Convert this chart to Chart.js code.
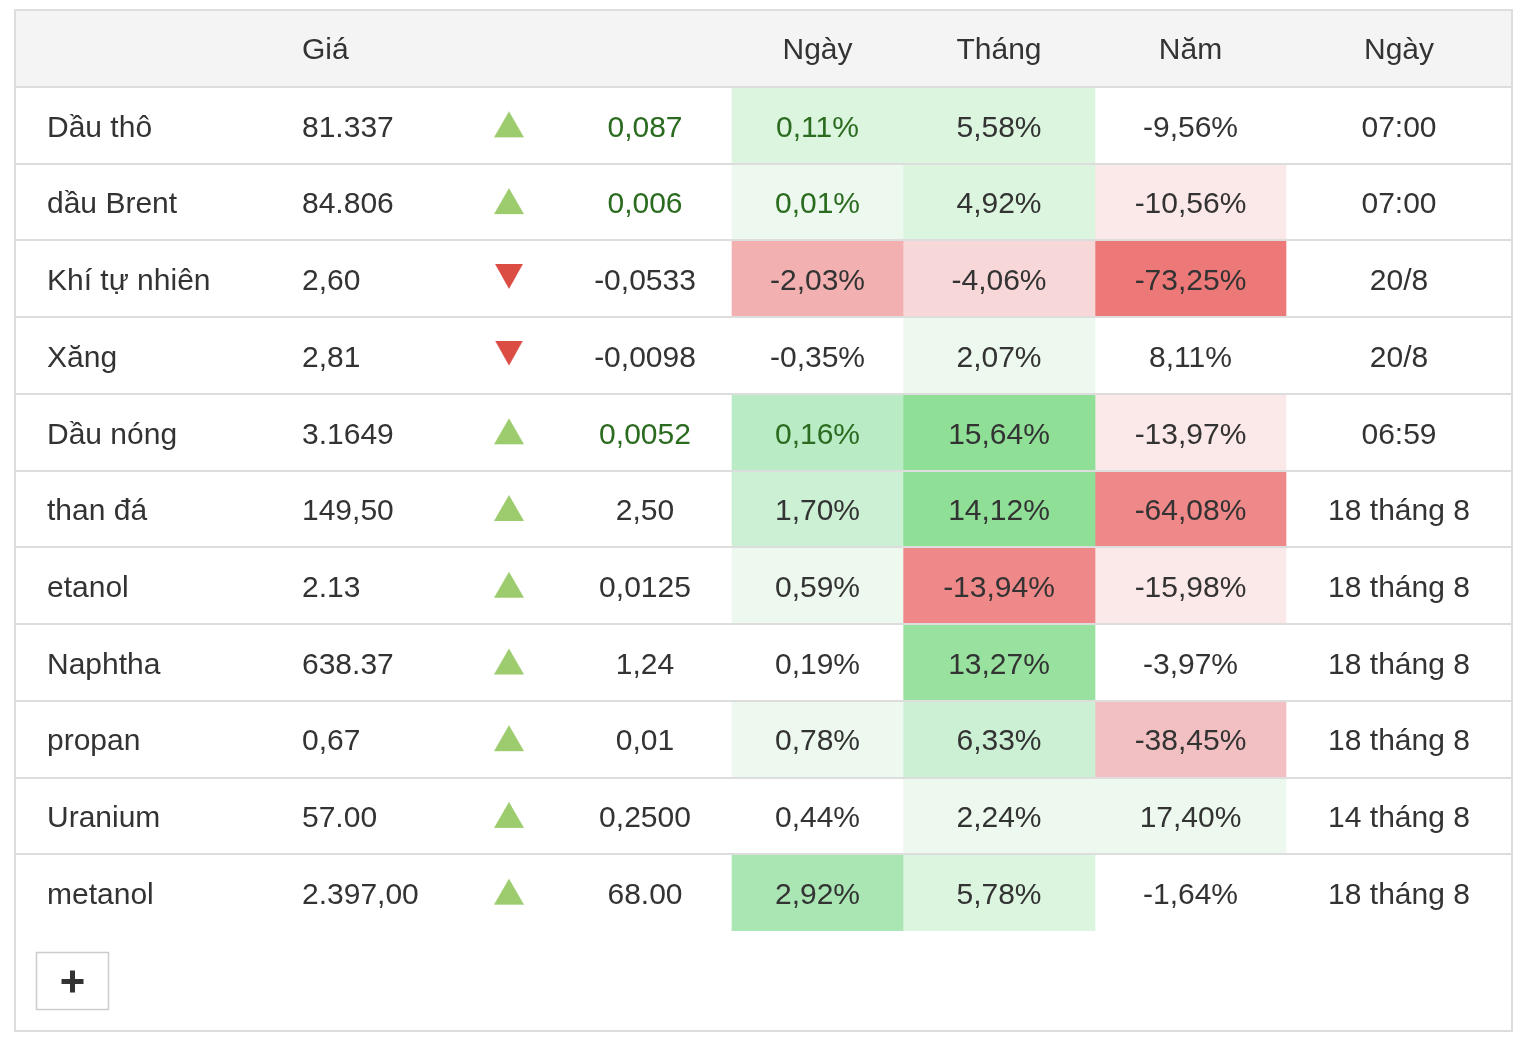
<!DOCTYPE html>
<html>
<head>
<meta charset="utf-8">
<script src="https://cdn.jsdelivr.net/npm/chart.js@4.4.1/dist/chart.umd.min.js"></script>
<style>
  html, body { margin: 0; padding: 0; background: #fff; }
  #wrap { width: 1526px; height: 1046px; position: relative; }
</style>
</head>
<body>
<div id="wrap"><canvas id="tbl"></canvas></div>
<script>
// dữ liệu bảng
const commodities = ['Dầu thô', 'dầu Brent', 'Khí tự nhiên', 'Xăng', 'Dầu nóng', 'than đá', 'etanol', 'Naphtha', 'propan', 'Uranium', 'metanol'];
const prices = ['81.337', '84.806', '2,60', '2,81', '3.1649', '149,50', '2.13', '638.37', '0,67', '57.00', '2.397,00'];
const changes = ['0,087', '0,006', '-0,0533', '-0,0098', '0,0052', '2,50', '0,0125', '1,24', '0,01', '0,2500', '68.00'];
const dayPct = [0.11, 0.01, -2.03, -0.35, 0.16, 1.70, 0.59, 0.19, 0.78, 0.44, 2.92];
const monthPct = [5.58, 4.92, -4.06, 2.07, 15.64, 14.12, -13.94, 13.27, 6.33, 2.24, 5.78];
const yearPct = [-9.56, -10.56, -73.25, 8.11, -13.97, -64.08, -15.98, -3.97, -38.45, 17.40, -1.64];
const updated = ['07:00', '07:00', '20/8', '20/8', '06:59', '18 tháng 8', '18 tháng 8', '18 tháng 8', '18 tháng 8', '14 tháng 8', '18 tháng 8'];
// mức độ tô màu (âm = đỏ, dương = xanh)
const dayHeat = [2, 1, -4, 0, 4, 3, 1, 0, 1, 0, 5];
const monthHeat = [2, 2, -2, 1, 7, 7, -5, 6, 3, 1, 2];
const yearHeat = [0, -1, -6, 0, -1, -5, -1, 0, -3, 1, 0];
const headers = ['', 'Giá', '', '', 'Ngày', 'Tháng', 'Năm', 'Ngày'];

// bố cục cột (đơn vị = px tính từ mép trái bảng)
const TABLE_W = 1499;
const COL = {
  name: 33, price: 288, arrow: 495, change: 631,
  day: [718, 889], month: [889, 1081], year: [1081, 1272], date: 1385
};
const FONT = '30px "Liberation Sans", Arial, sans-serif';
const TEXT = '#333333';
const TEXT_GREEN = '#2b6b1f';
const LINE = '#dddddd';

const greens = ['#ffffff', '#edf8ee', '#dcf5df', '#ccf0d4', '#b9ebc5', '#a9e6b3', '#98e19e', '#8fdf97'];
const reds = ['#ffffff', '#fbe8e8', '#f8d7d9', '#f2c0c2', '#f2b0b0', '#ef8888', '#ec7877'];
const heatColor = (lvl) => lvl >= 0 ? greens[lvl] : reds[-lvl];

const fmtPct = (v) => v.toFixed(2).replace('.', ',') + '%';
const isLive = (i) => updated[i].includes(':');
const isDown = (i) => changes[i].startsWith('-');
const mid = (r) => (r[0] + r[1]) / 2;

// mũi tên tam giác dùng làm pointStyle
function arrowImage(down) {
  const c = document.createElement('canvas');
  c.width = 30; c.height = 30;
  const g = c.getContext('2d');
  g.fillStyle = down ? '#db4c43' : '#9dcc6f';
  g.beginPath();
  if (down) {
    g.moveTo(1, 0); g.lineTo(29, 0); g.lineTo(15, 25);
  } else {
    g.moveTo(15, 1); g.lineTo(30, 27); g.lineTo(0, 27);
  }
  g.closePath();
  g.fill();
  return c;
}
const upArrow = arrowImage(false);
const downArrow = arrowImage(true);

function cellDataset(range, heat) {
  return {
    type: 'bar',
    indexAxis: 'y',
    data: commodities.map(() => range),
    backgroundColor: heat.map(heatColor),
    borderWidth: 0,
    barPercentage: 1,
    categoryPercentage: 1,
    grouped: false,
    order: 2
  };
}

// khung, tiêu đề, đường kẻ, chữ
const tablePlugin = {
  id: 'tableDecor',
  beforeDatasetsDraw(chart) {
    const { ctx, chartArea } = chart;
    ctx.save();
    // nền tiêu đề
    ctx.fillStyle = '#f4f4f4';
    ctx.fillRect(chartArea.left, 10, chartArea.right - chartArea.left, chartArea.top - 10);
    ctx.restore();
  },
  afterDatasetsDraw(chart) {
    const { ctx, chartArea, scales: { x, y } } = chart;
    const rowH = (chartArea.bottom - chartArea.top) / commodities.length;
    ctx.save();

    // đường kẻ hàng
    ctx.strokeStyle = LINE;
    ctx.lineWidth = 2;
    for (let i = 0; i < commodities.length; i++) {
      const yy = Math.round(y.getPixelForValue(i) - rowH / 2);
      ctx.beginPath();
      ctx.moveTo(chartArea.left, yy);
      ctx.lineTo(chartArea.right, yy);
      ctx.stroke();
    }

    // khung ngoài
    ctx.strokeRect(chartArea.left + 1, 10, chartArea.right - chartArea.left - 2, 1021);

    ctx.font = FONT;
    ctx.textBaseline = 'middle';

    // tiêu đề
    const hy = chartArea.top - 36;
    ctx.fillStyle = TEXT;
    ctx.textAlign = 'left';
    ctx.fillText(headers[1], x.getPixelForValue(COL.price), hy);
    ctx.textAlign = 'center';
    ctx.fillText(headers[4], x.getPixelForValue(mid(COL.day)), hy);
    ctx.fillText(headers[5], x.getPixelForValue(mid(COL.month)), hy);
    ctx.fillText(headers[6], x.getPixelForValue(mid(COL.year)), hy);
    ctx.fillText(headers[7], x.getPixelForValue(COL.date), hy);

    // các hàng
    commodities.forEach((name, i) => {
      const cy = y.getPixelForValue(i) + 3;
      const live = isLive(i);
      ctx.fillStyle = TEXT;
      ctx.textAlign = 'left';
      ctx.fillText(name, x.getPixelForValue(COL.name), cy);
      ctx.fillText(prices[i], x.getPixelForValue(COL.price), cy);
      ctx.textAlign = 'center';
      ctx.fillStyle = live && !isDown(i) ? TEXT_GREEN : TEXT;
      ctx.fillText(changes[i], x.getPixelForValue(COL.change), cy);
      ctx.fillText(fmtPct(dayPct[i]), x.getPixelForValue(mid(COL.day)), cy);
      ctx.fillStyle = TEXT;
      ctx.fillText(fmtPct(monthPct[i]), x.getPixelForValue(mid(COL.month)), cy);
      ctx.fillText(fmtPct(yearPct[i]), x.getPixelForValue(mid(COL.year)), cy);
      ctx.fillText(updated[i], x.getPixelForValue(COL.date), cy);
    });

    // nút "+"
    const bx = chartArea.left + 22.5, by = chartArea.bottom + 21.5;
    ctx.strokeStyle = '#cccccc';
    ctx.lineWidth = 1.5;
    ctx.strokeRect(bx, by, 72, 57);
    ctx.fillStyle = '#333333';
    const px = bx + 36, py = by + 29;
    ctx.fillRect(px - 11, py - 2.5, 22, 5);
    ctx.fillRect(px - 2.5, py - 11, 5, 22);

    ctx.restore();
  }
};

new Chart(document.getElementById('tbl'), {
  type: 'bar',
  data: {
    labels: commodities,
    datasets: [
      cellDataset(COL.day, dayHeat),
      cellDataset(COL.month, monthHeat),
      cellDataset(COL.year, yearHeat),
      {
        type: 'scatter',
        data: commodities.map((c) => ({ x: COL.arrow, y: c })),
        pointStyle: commodities.map((c, i) => isDown(i) ? downArrow : upArrow),
        pointRadius: 15,
        clip: false,
        order: 1
      }
    ]
  },
  options: {
    responsive: true,
    maintainAspectRatio: false,
    animation: false,
    events: [],
    layout: { autoPadding: false, padding: { left: 14, right: 13, top: 87, bottom: 115 } },
    plugins: { legend: { display: false }, tooltip: { enabled: false } },
    scales: {
      x: { type: 'linear', min: 0, max: TABLE_W, offset: false, display: false },
      y: { type: 'category', labels: commodities, offset: true, display: false }
    }
  },
  plugins: [tablePlugin]
});
</script>
</body>
</html>
